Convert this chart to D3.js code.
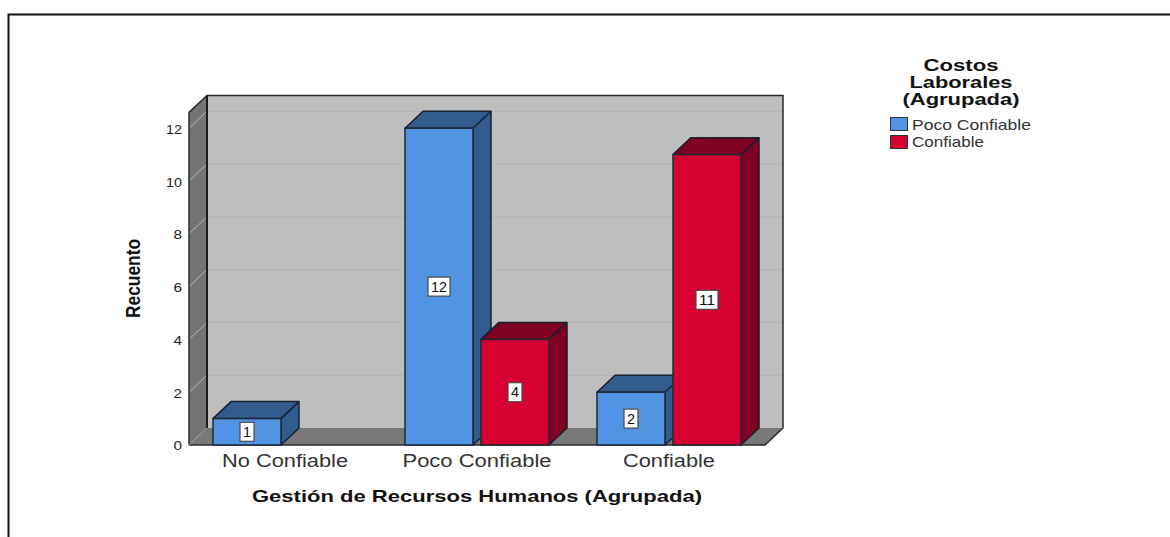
<!DOCTYPE html>
<html>
<head>
<meta charset="utf-8">
<script src="https://cdn.jsdelivr.net/npm/d3@7/dist/d3.min.js"></script>
<style>
  html, body { margin: 0; padding: 0; background: #fff; overflow: hidden; }
  text { font-family: "Liberation Sans", Arial, sans-serif; }
</style>
</head>
<body>
<script>
var categories = ["No Confiable", "Poco Confiable", "Confiable"];
var seriesNames = ["Poco Confiable", "Confiable"];
var pocoValues = [1, 12, 2];
var confiableValues = [null, 4, 11];
var yTicks = [0, 2, 4, 6, 8, 10, 12];

var width = 1170, height = 537;
var left = 189, right = 765, bottom = 445, top_ = 112.4;
var depthX = 18, depthY = -17; // 3D offset of the back wall
var barWidth = 68, barGap = 8;

var colors = [
  {front: "#5294e4", dark: "#325b8e"},
  {front: "#d60031", dark: "#7f0020"}
];

// text is stretched wide in the original, so each string gets its measured width
function stretch(sel, w) {
  sel.attr("textLength", w).attr("lengthAdjust", "spacingAndGlyphs");
}

var svg = d3.select("body").append("svg")
    .attr("width", width)
    .attr("height", height)
    .style("display", "block");

// outer frame, only top and left show
svg.append("path")
    .attr("d", "M8.5,537V14.5H1170")
    .attr("fill", "none")
    .attr("stroke", "#111")
    .attr("stroke-width", 2);

var x = d3.scaleBand().domain(categories).range([left, right]);
var y = d3.scaleLinear().domain([0, 12.6]).range([bottom, top_]);

function poly(points) {
  return "M" + points.map(function(p) { return p.join(","); }).join("L") + "Z";
}

var chart = svg.append("g");

// back wall
chart.append("path")
    .attr("d", poly([[left + depthX, top_ + depthY], [right + depthX, top_ + depthY],
                     [right + depthX, bottom + depthY], [left + depthX, bottom + depthY]]))
    .attr("fill", "#bebebe");
// left wall
chart.append("path")
    .attr("d", poly([[left, top_], [left + depthX, top_ + depthY],
                     [left + depthX, bottom + depthY], [left, bottom]]))
    .attr("fill", "#747474");
// floor
chart.append("path")
    .attr("d", poly([[left, bottom], [right, bottom],
                     [right + depthX, bottom + depthY], [left + depthX, bottom + depthY]]))
    .attr("fill", "#787878");

// gridlines, wall part then back part
var grid = yTicks.filter(function(d) { return d > 0; });
chart.selectAll(".gridBack").data(grid).enter().append("line")
    .attr("class", "gridBack")
    .attr("x1", left + depthX).attr("x2", right + depthX)
    .attr("y1", function(d) { return y(d) + depthY; })
    .attr("y2", function(d) { return y(d) + depthY; })
    .attr("stroke", "#b2b2b2").attr("stroke-width", 1);
chart.selectAll(".gridWall").data(grid).enter().append("line")
    .attr("class", "gridWall")
    .attr("x1", left).attr("x2", left + depthX)
    .attr("y1", function(d) { return y(d); })
    .attr("y2", function(d) { return y(d) + depthY; })
    .attr("stroke", "#b8b8b8").attr("stroke-width", 1);

// frame edges of the box
chart.append("path")
    .attr("d", "M" + left + "," + bottom + "V" + top_ + "L" + (left + depthX) + "," + (top_ + depthY) +
               "H" + (right + depthX) + "V" + (bottom + depthY) + "L" + right + "," + bottom + "H" + left)
    .attr("fill", "none").attr("stroke", "#2b2b2b").attr("stroke-width", 1.5);
chart.append("path")
    .attr("d", "M" + (left + depthX) + "," + (top_ + depthY) + "V" + (bottom + depthY))
    .attr("fill", "none").attr("stroke", "#1c1c1c").attr("stroke-width", 2);
chart.append("path")
    .attr("d", "M" + left + "," + bottom + "L" + (left + depthX) + "," + (bottom + depthY))
    .attr("fill", "none").attr("stroke", "#a0a0a0").attr("stroke-width", 1);

// bars, left to right so later ones cover the sides of earlier ones
var bars = [];
categories.forEach(function(c, i) {
  [pocoValues[i], confiableValues[i]].forEach(function(v, s) {
    if (v === null) return;
    bars.push({cat: c, value: v, series: s});
  });
});

function barX(d) {
  var center = x(d.cat) + x.bandwidth() / 2;
  return d.series === 0 ? center - barGap / 2 - barWidth : center + barGap / 2;
}

var barG = chart.selectAll(".bar").data(bars).enter().append("g").attr("class", "bar");

barG.append("path") // top + side
    .attr("d", function(d) {
      var x0 = barX(d), x1 = x0 + barWidth, yt = y(d.value);
      return poly([[x0, yt], [x0 + depthX, yt + depthY], [x1 + depthX, yt + depthY],
                   [x1 + depthX, bottom + depthY], [x1, bottom], [x1, yt]]);
    })
    .attr("fill", function(d) { return colors[d.series].dark; })
    .attr("stroke", "#14202e").attr("stroke-width", 1.5).attr("stroke-linejoin", "round");
barG.append("path") // edge between top and side
    .attr("d", function(d) {
      var x1 = barX(d) + barWidth, yt = y(d.value);
      return "M" + x1 + "," + yt + "l" + depthX + "," + depthY;
    })
    .attr("stroke", "#14202e").attr("stroke-width", 1.5);
barG.append("rect")
    .attr("x", barX)
    .attr("y", function(d) { return y(d.value); })
    .attr("width", barWidth)
    .attr("height", function(d) { return bottom - y(d.value); })
    .attr("fill", function(d) { return colors[d.series].front; })
    .attr("stroke", "#1d2a38").attr("stroke-width", 1.5);

// value labels
var labelG = chart.selectAll(".valueLabel").data(bars).enter().append("g")
    .attr("class", "valueLabel")
    .attr("transform", function(d) {
      return "translate(" + (barX(d) + barWidth / 2) + "," + ((y(d.value) + bottom) / 2) + ")";
    });
labelG.append("rect")
    .attr("x", function(d) { return d.value > 9 ? -11 : -7; })
    .attr("y", -9.5)
    .attr("width", function(d) { return d.value > 9 ? 22 : 14; })
    .attr("height", 19)
    .attr("fill", "#fff").attr("stroke", "#4a4a4a").attr("stroke-width", 1.2);
labelG.append("text")
    .attr("text-anchor", "middle")
    .attr("dy", "0.36em")
    .style("font-size", "14px")
    .style("fill", "#111")
    .text(function(d) { return d.value; })
    .each(function(d) { stretch(d3.select(this), d.value > 9 ? 16 : 8); });

// axes
var yAxis = d3.axisLeft(y).tickValues(yTicks).tickSize(0).tickPadding(7);
var yG = svg.append("g").attr("transform", "translate(" + left + ",0.8)").call(yAxis);
yG.select(".domain").remove();
yG.selectAll("text")
    .style("font-size", "13px").style("fill", "#222").style("font-family", "Liberation Sans")
    .each(function(d) { stretch(d3.select(this), d > 9 ? 16 : 8.5); });

var xAxis = d3.axisBottom(x).tickSize(0).tickPadding(10);
var xG = svg.append("g").attr("transform", "translate(0," + bottom + ")").call(xAxis);
xG.select(".domain").remove();
var xWidths = [126, 149, 92];
xG.selectAll("text")
    .style("font-size", "17.5px").style("fill", "#333").style("font-family", "Liberation Sans")
    .each(function(d, i) { stretch(d3.select(this), xWidths[i]); });

// axis titles
svg.append("text")
    .attr("x", 477).attr("y", 502)
    .attr("text-anchor", "middle")
    .style("font-size", "17px").style("font-weight", "bold").style("fill", "#111")
    .text("Gestión de Recursos Humanos (Agrupada)")
    .call(stretch, 450);

svg.append("text")
    .attr("transform", "translate(140,278.5) rotate(-90)")
    .attr("text-anchor", "middle")
    .style("font-size", "20px").style("font-weight", "bold").style("fill", "#111")
    .text("Recuento")
    .call(stretch, 79);

// legend
var legendTitle = ["Costos", "Laborales", "(Agrupada)"];
var legendTitleW = [75, 103, 117];
svg.selectAll(".legendTitle").data(legendTitle).enter().append("text")
    .attr("class", "legendTitle")
    .attr("x", 961)
    .attr("y", function(d, i) { return 71 + i * 17; })
    .attr("text-anchor", "middle")
    .style("font-size", "16.5px").style("font-weight", "bold").style("fill", "#111")
    .text(function(d) { return d; })
    .each(function(d, i) { stretch(d3.select(this), legendTitleW[i]); });

var legendW = [119, 72];
var item = svg.selectAll(".legendItem").data(seriesNames).enter().append("g")
    .attr("class", "legendItem")
    .attr("transform", function(d, i) { return "translate(890," + (117 + i * 18) + ")"; });
item.append("rect")
    .attr("x", 0.5).attr("y", 0.5)
    .attr("width", 17).attr("height", 13)
    .attr("fill", function(d, i) { return colors[i].front; })
    .attr("stroke", "#333").attr("stroke-width", 1);
item.append("text")
    .attr("x", 22).attr("y", function(d, i) { return 13 - i; })
    .style("font-size", "14.5px").style("fill", "#333")
    .text(function(d) { return d; })
    .each(function(d, i) { stretch(d3.select(this), legendW[i]); });
</script>
</body>
</html>
